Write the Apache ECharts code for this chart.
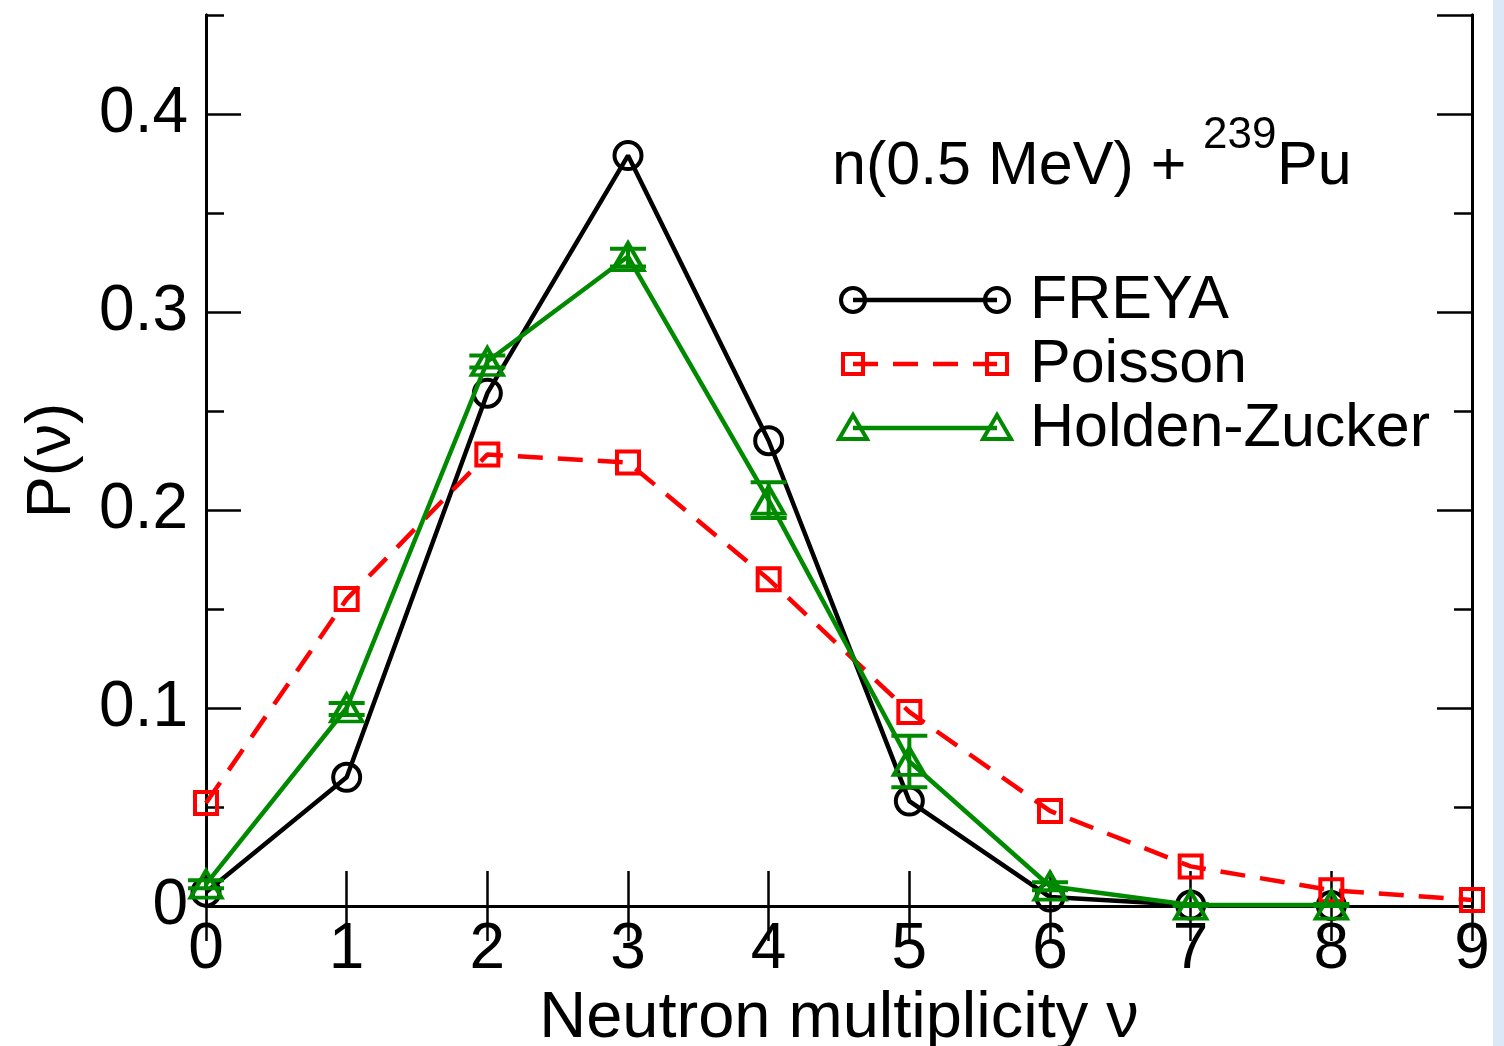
<!DOCTYPE html>
<html><head><meta charset="utf-8">
<script src="https://cdn.jsdelivr.net/npm/echarts@6/dist/echarts.min.js"></script>
<style>html,body{margin:0;padding:0;background:#fff}#c{width:1504px;height:1046px}</style>
</head><body><div id="c"></div>
<script>
const nu = [0,1,2,3,4,5,6,7,8,9];
const freya = [0.007,0.065,0.259,0.379,0.235,0.053,0.0045,0.0005,0.0002];
const poisson = [0.052,0.155,0.228,0.224,0.165,0.098,0.048,0.020,0.008,0.003];
const holden = [0.011,0.100,0.275,0.328,0.205,0.073,0.010,0.0005,0.0005];
const holdenLow = [0.009,0.0965,0.272,0.323,0.196,0.060,0.008,0.0,0.0];
const holdenHigh = [0.013,0.1025,0.278,0.332,0.214,0.086,0.012,0.001,0.001];
const yTicks = [0,0.1,0.2,0.3,0.4];
const xName = 'Neutron multiplicity \u03bd';
const yName = 'P(\u03bd)';
const legendNames = ['FREYA','Poisson','Holden-Zucker'];

const FONT = '"Liberation Sans", Arial, sans-serif';
const chart = echarts.init(document.getElementById('c'), null, {renderer:'canvas'});
const pairs = (ys) => ys.map((v,i)=>[nu[i],v]);
const frame = {show:true, lineStyle:{color:'#000', width:3}};

function yLabel(v){
  const r = Math.round(v*100)/100;
  return yTicks.some(t=>Math.abs(t-r)<1e-9) ? (r===0?'0':String(r)) : '';
}

const LW = 4.5, BW = 4;
const legendY = [300,364,428];
const lx0 = 853, lx1 = 997;
const lgStyles = [
  {color:'#000', dash:null, symbol:'circle'},
  {color:'#ff0000', dash:[25,15], symbol:'rect'},
  {color:'#008a00', dash:null, symbol:'triangle'}
];
const graphics = [
  {type:'rect', shape:{x:1493,y:0,width:11,height:1046}, style:{fill:'#dbe8f6'}, silent:true},
  {type:'text', left:832, top:137, style:{text:'n(0.5 MeV) +', font:'61px '+FONT, fill:'#000'}},
  {type:'text', left:1203, top:114, style:{text:'239', font:'44px '+FONT, fill:'#000'}},
  {type:'text', left:1277, top:137, style:{text:'Pu', font:'61px '+FONT, fill:'#000'}}
];
function markerShape(sym, cx, cy, color){
  if(sym==='circle') return {type:'circle', shape:{cx:cx,cy:cy,r:12}, style:{fill:'none',stroke:color,lineWidth:BW}};
  if(sym==='rect') return {type:'rect', shape:{x:cx-10,y:cy-10,width:20,height:20}, style:{fill:'none',stroke:color,lineWidth:BW}};
  return {type:'polygon', shape:{points:[[cx,cy-13],[cx+14,cy+11],[cx-14,cy+11]]}, style:{fill:'none',stroke:color,lineWidth:BW}};
}
legendNames.forEach((n,i)=>{
  const s = lgStyles[i], y = legendY[i];
  graphics.push({type:'line', shape:{x1:lx0,y1:y,x2:lx1,y2:y}, style:{stroke:s.color,lineWidth:LW,lineDash:s.dash}});
  graphics.push(markerShape(s.symbol,lx0,y,s.color));
  graphics.push(markerShape(s.symbol,lx1,y,s.color));
  graphics.push({type:'text', left:1030, top:y-29, style:{text:n, font:'61px '+FONT, fill:'#000'}});
});

const axisCommonY = {type:'value', min:0, max:0.45, splitLine:{show:false}, axisLine:frame};
const option = {
  backgroundColor:'#fff',
  animation:false,
  grid:{left:206, top:15, width:1266, height:891, containLabel:false, outerBoundsMode:'none'},
  xAxis:[
    {type:'value', min:0, max:9, interval:1, position:'bottom',
     axisLine:frame, splitLine:{show:false},
     axisTick:{show:true, inside:true, length:35, lineStyle:{color:'#000',width:2.5}},
     axisLabel:{show:true, color:'#000', fontSize:64, fontFamily:FONT, margin:12},
     name:xName, nameLocation:'middle', nameGap:71,
     nameTextStyle:{color:'#000', fontSize:65, fontFamily:FONT}},
    {type:'value', min:0, max:9, interval:1, position:'top',
     axisLine:frame, splitLine:{show:false},
     axisTick:{show:true, inside:true, length:35, lineStyle:{color:'#000',width:2.5}},
     axisLabel:{show:false}}
  ],
  yAxis:[
    Object.assign({}, axisCommonY, {position:'left', interval:0.1,
     axisTick:{show:true, inside:true, length:35, lineStyle:{color:'#000',width:2.5}},
     axisLabel:{show:true, color:'#000', fontSize:64, fontFamily:FONT, margin:18, formatter:yLabel, showMaxLabel:false},
     name:yName, nameLocation:'middle', nameGap:122, nameRotate:90,
     nameTextStyle:{color:'#000', fontSize:63, fontFamily:FONT}}),
    Object.assign({}, axisCommonY, {position:'left', interval:0.05,
     axisTick:{show:true, inside:true, length:18, lineStyle:{color:'#000',width:2.5}},
     axisLabel:{show:false}}),
    Object.assign({}, axisCommonY, {position:'right', interval:0.1,
     axisTick:{show:true, inside:true, length:35, lineStyle:{color:'#000',width:2.5}},
     axisLabel:{show:false}}),
    Object.assign({}, axisCommonY, {position:'right', interval:0.05,
     axisTick:{show:true, inside:true, length:18, lineStyle:{color:'#000',width:2.5}},
     axisLabel:{show:false}})
  ],
  graphic:graphics,
  series:[
    {name:'FREYA', type:'line', data:pairs(freya), symbol:'circle', symbolSize:27,
     lineStyle:{color:'#000', width:LW}, itemStyle:{color:'none', borderColor:'#000', borderWidth:BW}, z:3},
    {name:'Poisson', type:'line', data:pairs(poisson), symbol:'rect', symbolSize:22,
     lineStyle:{color:'#ff0000', width:LW, type:[25,15]}, itemStyle:{color:'none', borderColor:'#ff0000', borderWidth:BW}, z:3},
    {name:'Holden-Zucker', type:'line', data:pairs(holden), symbol:'triangle', symbolSize:[31,27],
     lineStyle:{color:'#008a00', width:LW}, itemStyle:{color:'none', borderColor:'#008a00', borderWidth:BW}, z:4},
    {name:'HZ err', type:'custom', z:5,
     data:holden.map((v,i)=>[nu[i], holdenLow[i], holdenHigh[i]]),
     renderItem:function(params, api){
       const x = api.value(0);
       const lo = api.coord([x, api.value(1)]);
       const hi = api.coord([x, api.value(2)]);
       const w = 18, st = {stroke:'#008a00', lineWidth:BW};
       return {type:'group', children:[
         {type:'line', shape:{x1:lo[0],y1:lo[1],x2:hi[0],y2:hi[1]}, style:st},
         {type:'line', shape:{x1:lo[0]-w,y1:lo[1],x2:lo[0]+w,y2:lo[1]}, style:st},
         {type:'line', shape:{x1:hi[0]-w,y1:hi[1],x2:hi[0]+w,y2:hi[1]}, style:st}
       ]};
     }}
  ]
};
chart.setOption(option);
</script></body></html>
